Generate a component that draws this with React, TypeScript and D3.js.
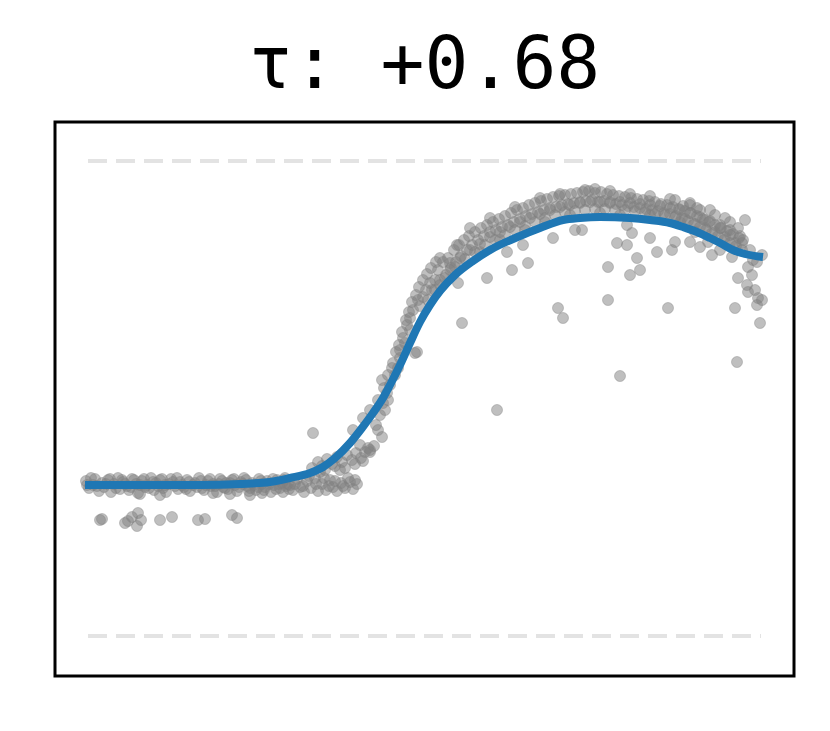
import React from "react";
import * as d3 from "d3";

// x: sample index (0..680), y: response (reference levels at 0 and 475)
const TITLE = "τ: +0.68";
const REF_LEVELS = [0, 475];

const plateauPts: [number, number][] = [
  [1,155],[4,148],[8,151],[10,157],[14,145],[17,153],[19,149],[23,156],[26,144],[29,152],
  [33,158],[35,147],[38,154],[42,150],[44,146],[47,157],[51,152],[53,143],[57,155],[60,149],
  [62,151],[66,158],[69,146],[71,153],[75,156],[78,148],[81,144],[84,152],[86,157],[90,150],
  [93,147],[95,154],[99,149],[102,156],[105,145],[108,151],[110,153],[114,158],[117,148],[119,146],
  [123,155],[126,150],[128,152],[132,144],[135,157],[138,149],[141,153],[143,147],[147,156],[150,151],
  [152,145],[156,154],[159,158],[162,150],[165,148],[167,153],[171,146],[174,157],[177,152],[180,149],
  [182,155],[186,144],[189,151],[192,156],[195,148],[197,153],[201,150],[204,147],
  [55,142],[75,141],[128,143],[145,142],[165,141],[177,143],[198,144],
];

const plateauExtra: [number, number][] = [
  [2,151],[6,158],[12,150],[21,152],[25,157],[31,148],[37,156],[40,152],[46,149],[49,156],
  [55,151],[59,157],[64,148],[68,154],[73,150],[77,157],[80,151],[88,154],[92,158],[97,151],
  [101,147],[104,154],[112,149],[116,155],[121,151],[125,157],[130,150],[134,152],[137,155],[140,148],
  [145,153],[149,157],[154,149],[158,152],[161,156],[164,145],[169,151],[173,149],[176,155],[179,146],
  [184,152],[188,157],[191,147],[194,152],[199,156],[203,152],
];

const plateauLow: [number, number][] = [
  [15,116],[17,117],[40,113],[43,115],[47,119],[53,123],[52,110],[56,116],[75,116],[87,119],
  [113,116],[120,117],[147,121],[152,118],
];

const transitionPts: [number, number][] = [
  [200,158],[205,151],[208,146],[212,157],[215,149],[219,144],[222,155],[226,148],[230,158],[233,145],
  [237,152],[241,146],[245,156],[248,149],[252,145],[256,153],[260,148],[265,154],[268,147],[272,152],
  [227,168],[233,174],[237,170],[242,177],[247,172],[252,179],[257,174],[262,181],[267,176],[271,183],
  [276,178],[280,184],[285,184],[289,190],[235,164],[255,166],[228,203],
  [210,152],[218,150],[224,160],[231,152],[239,158],[244,150],[250,155],[258,150],[263,158],[270,156],
  [240,166],[250,170],[260,168],[270,172],[278,175],[283,188],
];

const risePts: [number, number][] = [
  [268,206],[278,218],[285,226],[293,206],[297,199],[298,233],[297,256],[302,243],[308,273],[315,278],
  [320,293],[332,284],[325,306],[285,186],[275,191],[291,211],[295,221],[300,226],[303,236],[305,251],
  [310,261],[313,268],[315,286],[318,298],[322,311],[325,318],[328,326],[330,283],[333,336],[335,330],
  [338,339],[341,346],[343,336],[345,353],
  [293,236],[299,248],[303,261],[307,268],[311,284],[314,291],[317,304],[321,316],[324,324],[327,334],
  [331,341],[334,349],[338,356],[342,362],[346,368],[351,374],
];

const upperBand: [number, number][] = [
  [347,346],[350,356],[353,366],[355,351],[358,374],[361,361],[363,378],[366,368],[369,386],[371,374],
  [374,391],[376,380],[379,396],[382,386],[384,400],[387,391],[390,404],[393,396],[396,408],[399,400],
  [402,411],[405,404],[408,414],[411,406],[414,417],[417,409],
  [420,420],[423,411],[426,423],[429,414],[432,426],[435,417],[438,428],[441,420],[444,431],[447,422],
  [450,433],[453,424],[456,435],[459,426],[462,437],[465,428],[468,439],[471,429],[474,440],[477,431],
  [480,441],[483,432],[486,442],[489,433],[492,443],[495,434],[498,444],[501,435],[504,445],[507,436],
  [510,443],[513,434],
  [516,444],[519,435],[522,442],[525,433],[528,441],[531,432],[534,440],[537,431],[540,439],[543,430],
  [546,438],[549,429],[552,437],[555,428],[558,436],[561,427],[564,435],[567,426],[570,434],[573,425],
  [576,432],[579,423],[582,431],[585,422],[588,429],[591,420],[594,427],[597,418],[600,425],[603,415],
  [606,423],[609,412],[612,420],[615,409],
  [618,417],[621,406],[624,414],[627,403],[630,411],[633,400],[636,408],[639,396],[642,405],[645,393],
  [648,402],[651,390],[654,398],[657,386],
  [385,408],[405,418],[430,429],[455,438],[475,442],[500,446],[510,447],[525,445],[545,442],[565,440],
  [585,437],[605,433],[625,426],[645,414],
  [395,384],[415,396],[440,406],[460,414],[485,421],[515,423],[535,421],[565,421],[595,414],
  [355,378],[365,373],[372,391],[373,353],
];

const upperBandLow: [number, number][] = [
  [350,346],[355,356],[360,358],[365,366],[370,369],[375,378],[380,377],[385,386],[390,384],[395,392],
  [400,391],[405,399],[410,396],[415,404],[420,401],[425,409],[430,406],[435,414],[440,410],[445,418],
  [450,414],[455,422],[460,418],[465,426],[470,421],[475,429],[480,424],[485,431],[490,425],[495,433],
  [500,426],[505,434],[510,427],[515,434],[520,427],[525,434],[530,426],[535,434],[540,426],[545,433],
  [550,425],[555,432],[560,424],[565,431],[570,422],[575,430],[580,421],[585,428],[590,419],[595,426],
  [600,417],[605,423],[610,412],[615,419],[620,408],[625,415],[630,404],[635,411],[640,399],[645,406],
  [650,393],[655,400],
];

const rightSpread: [number, number][] = [
  [605,431],[615,426],[620,416],[630,421],[635,408],[640,418],[645,401],[653,408],[657,393],[610,404],
  [623,394],[635,386],[598,430],[590,436],[612,428],
];

const rightTail: [number, number][] = [
  [660,416],[658,396],[665,386],[668,376],[663,369],[672,374],[653,358],[662,351],[667,361],[663,344],
  [673,338],[672,331],[670,346],[677,336],[675,313],[650,328],[652,274],[677,381],
];

const scatteredBelow: [number, number][] = [
  [377,313],[402,358],[422,384],[427,366],[443,373],[438,391],[468,398],[473,328],[478,318],[490,406],
  [497,406],[523,369],[523,336],[532,393],[542,391],[547,403],[565,398],[552,378],[545,361],[555,366],
  [572,384],[587,386],[590,394],[605,394],[615,389],[627,381],[647,379],[583,328],[535,260],[412,226],
  [542,411],
];

const fitX = [0,65,115,155,185,205,225,238,250,265,277,288,298,305,315,325,335,345,355,370,388,405,435,455,478,495,515,545,565,585,598,612,625,637,648,660,678];
const fitY = [151,151,151,152,154,158,163,169,178,193,208,223,238,251,271,293,314,331,345,361,375,386,400,408,416,418,419,418,416,413,409,404,398,392,386,382,379];

export default function App() {
  const W = 830, H = 731;
  const x = d3.scaleLinear().domain([0, 680]).range([85, 765]);
  const y = d3.scaleLinear().domain([0, 475]).range([636, 161]);
  const all = [
    ...plateauPts, ...plateauExtra, ...plateauLow, ...transitionPts, ...risePts,
    ...upperBand, ...upperBandLow, ...rightSpread, ...rightTail, ...scatteredBelow,
  ];
  const fit = fitX.map((v, i) => [v, fitY[i]] as [number, number]);
  const line = d3.line<[number, number]>()
    .x((d) => x(d[0]))
    .y((d) => y(d[1]))
    .curve(d3.curveMonotoneX);
  const [x0, x1] = x.range();
  return (
    <svg width={W} height={H} style={{ position: "absolute", left: 0, top: 0, background: "#fff" }}>
      <rect x={0} y={0} width={W} height={H} fill="#fff" />
      <text
        x={424.5}
        y={88}
        textAnchor="middle"
        fontFamily="'DejaVu Sans Mono', monospace"
        fontSize={73}
        fill="#000"
      >
        {TITLE}
      </text>
      {REF_LEVELS.map((r) => (
        <line
          key={r}
          x1={x0 + 3}
          x2={x1 - 4}
          y1={y(r)}
          y2={y(r)}
          stroke="#e3e3e3"
          strokeWidth={4}
          strokeDasharray="19,9"
        />
      ))}
      <g>
        {all.map((d, i) => (
          <circle
            key={i}
            cx={x(d[0])}
            cy={y(d[1])}
            r={5.5}
            fill="#808080"
            fillOpacity={0.5}
            stroke="#808080"
            strokeOpacity={0.4}
            strokeWidth={1}
          />
        ))}
      </g>
      <path d={line(fit) || ""} fill="none" stroke="#1f77b4" strokeWidth={8} strokeLinecap="butt" />
      <rect x={55} y={122} width={739} height={554} fill="none" stroke="#000" strokeWidth={3} />
    </svg>
  );
}
